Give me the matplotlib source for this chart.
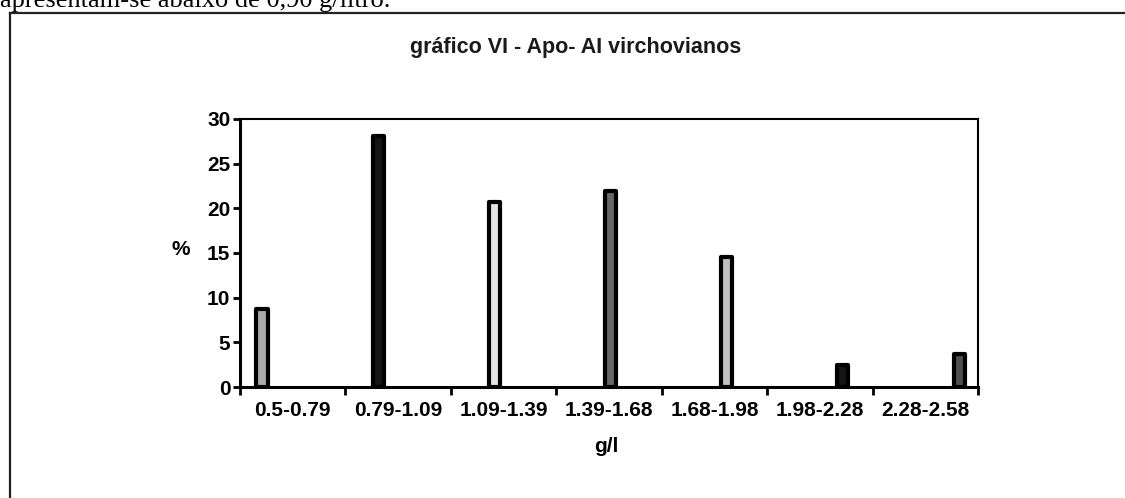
import matplotlib
matplotlib.use("Agg")
import matplotlib.pyplot as plt
from matplotlib.lines import Line2D

# faixas de Apo-AI (g/l) e percentagem de pacientes virchovianos
faixas = ["0.5-0.79", "0.79-1.09", "1.09-1.39", "1.39-1.68",
          "1.68-1.98", "1.98-2.28", "2.28-2.58"]
percentuais = [8.7, 28.1, 20.7, 21.9, 14.6, 2.5, 3.7]
cores = ["#ababab", "#141414", "#e4e4e4", "#676767", "#c0c0c0", "#141414", "#4e4e4e"]
y_ticks = [0, 5, 10, 15, 20, 25, 30]

plt.rcParams["font.family"] = ["Liberation Sans", "DejaVu Sans"]

fig = plt.figure(figsize=(11.25, 4.98), dpi=100)
ax = fig.add_axes([240 / 1125, 1 - 387 / 498, (978 - 240) / 1125, (387 - 119) / 498])

# cada faixa e uma serie propria (estilo Excel agrupado): so um valor nao nulo por serie
n = len(faixas)
for k in range(n):
    vals = [percentuais[k] if i == k else 0 for i in range(n)]
    xs = [i + 0.515 + (k - 3) * 0.102 for i in range(n)]
    for x, v in zip(xs, vals):
        if v > 0:
            ax.bar(x, v, width=0.105, color=cores[k], edgecolor="black",
                   linewidth=3, joinstyle="round")

ax.set_xlim(0, n)
ax.set_ylim(0, 30)
ax.set_yticks(y_ticks)
ax.set_yticklabels([str(t) for t in y_ticks], fontsize=15, fontweight="bold")
ax.set_xticks([i + 0.5 for i in range(n)])
ax.set_xticklabels(faixas, fontsize=15, fontweight="bold")
ax.set_xticks(range(n + 1), minor=True)
ax.tick_params(axis="x", which="major", length=0, pad=10)
ax.tick_params(axis="x", which="minor", length=6, width=2, direction="out")
ax.tick_params(axis="y", length=5, width=2, direction="out", pad=2)

for side in ["left", "bottom"]:
    ax.spines[side].set_linewidth(2.2)
for side in ["top", "right"]:
    ax.spines[side].set_linewidth(1.5)

fig.text(181 / 1125, 1 - 249 / 498, "%", fontsize=15, fontweight="bold",
         ha="center", va="center")
fig.text(606 / 1125, 1 - 447 / 498, "g/l", fontsize=15, fontweight="bold",
         ha="center", va="center")
fig.text(576 / 1125, 1 - 47 / 498, "gráfico VI - Apo- AI virchovianos",
         fontsize=15.5, fontweight="bold", ha="center", va="center", color="#1a1a1a")

# moldura da figura na pagina digitalizada
fig.add_artist(Line2D([10 / 1125, 1], [1 - 13 / 498, 1 - 13 / 498],
                      transform=fig.transFigure, color="#222222", lw=1.6))
fig.add_artist(Line2D([10 / 1125, 10 / 1125], [0, 1 - 13 / 498],
                      transform=fig.transFigure, color="#222222", lw=1.6))

# resto da linha de texto cortada no topo da pagina
fig.text(0.0, 1 - 7 / 498, "apresentam-se abaixo de 0,90 g/litro.",
         fontsize=19, family="Liberation Serif", ha="left", va="baseline")

fig.savefig("out.png", dpi=100)
